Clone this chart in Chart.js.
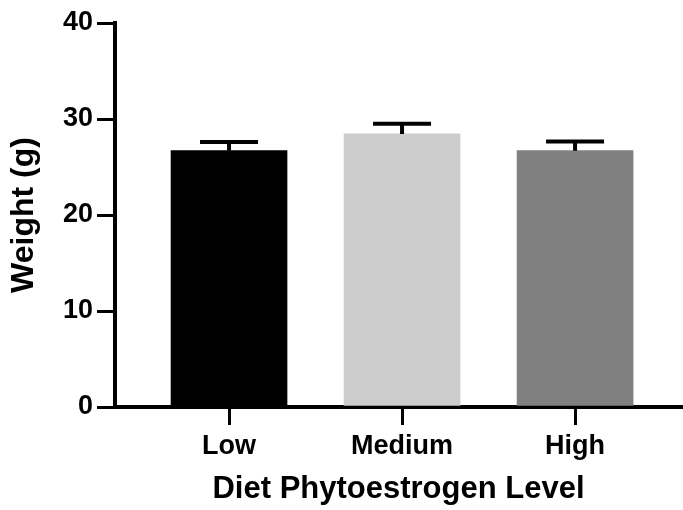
<!DOCTYPE html>
<html>
<head>
<meta charset="utf-8">
<script src="https://cdn.jsdelivr.net/npm/chart.js@4.4.1/dist/chart.umd.min.js"></script>
<style>
  body { margin: 0; background: #fff; }
</style>
</head>
<body>
<canvas id="myChart" width="683" height="510"></canvas>
<script>
const categories = ['Low', 'Medium', 'High']
const means = [26.7, 28.45, 26.7]
const upper = [27.6, 29.5, 27.65]
const barColors = ['#000000', '#cccccc', '#808080']
const yTicks = [0, 10, 20, 30, 40]

const font = "'Liberation Sans', Arial, sans-serif"

// error bars (upper half only, like the original)
const errorBars = {
  id: 'errorBars',
  afterDatasetsDraw(chart) {
    const c = chart.ctx
    const meta = chart.getDatasetMeta(0)
    const y = chart.scales.y
    c.save()
    c.strokeStyle = '#000'
    c.lineWidth = 4
    meta.data.forEach((bar, i) => {
      const top = y.getPixelForValue(upper[i])
      c.beginPath()
      c.moveTo(bar.x, bar.y)
      c.lineTo(bar.x, top)
      c.moveTo(bar.x - 29, top)
      c.lineTo(bar.x + 29, top)
      c.stroke()
    })
    c.restore()
  }
}

const ctx = document.getElementById('myChart')
new Chart(ctx, {
  type: 'bar',
  data: {
    datasets: [{
      data: categories.map((c, i) => ({ x: i, y: means[i] })),
      backgroundColor: barColors,
      borderWidth: 0,
      barThickness: 116
    }]
  },
  options: {
    responsive: false,
    animation: false,
    layout: { padding: { top: 23, right: 1, left: 0, bottom: 0 } },
    plugins: { legend: { display: false }, tooltip: { enabled: false } },
    scales: {
      x: {
        type: 'linear',
        min: -0.659,
        max: 2.618,
        offset: false,
        afterBuildTicks: scale => { scale.ticks = categories.map((c, i) => ({ value: i })) },
        afterFit: scale => { scale.height = 103 },
        grid: { offset: false, drawOnChartArea: false, drawTicks: true, tickLength: 18, color: '#000', lineWidth: 3 },
        border: { display: true, color: '#000', width: 4 },
        ticks: {
          color: '#000',
          padding: 5,
          maxRotation: 0,
          font: { family: font, size: 27, weight: 'bold' },
          callback: v => categories[v]
        },
        title: {
          display: true,
          text: 'Diet Phytoestrogen Level',
          color: '#000',
          font: { family: font, size: 31, weight: 'bold', lineHeight: 1.2 },
          padding: { top: 0, bottom: 2 }
        }
      },
      y: {
        min: 0,
        max: 40,
        afterBuildTicks: scale => { scale.ticks = yTicks.map(v => ({ value: v })) },
        afterFit: scale => { scale.width = 115 },
        grid: { drawOnChartArea: false, drawTicks: true, tickLength: 18, color: '#000', lineWidth: 3 },
        border: { display: true, color: '#000', width: 4 },
        ticks: {
          color: '#000',
          padding: 4,
          font: { family: font, size: 27, weight: 'bold' }
        },
        title: {
          display: true,
          text: 'Weight (g)',
          color: '#000',
          font: { family: font, size: 32, weight: 'bold', lineHeight: 1.2 },
          padding: { top: 5, bottom: 0 }
        }
      }
    }
  },
  plugins: [errorBars]
})
</script>
</body>
</html>
